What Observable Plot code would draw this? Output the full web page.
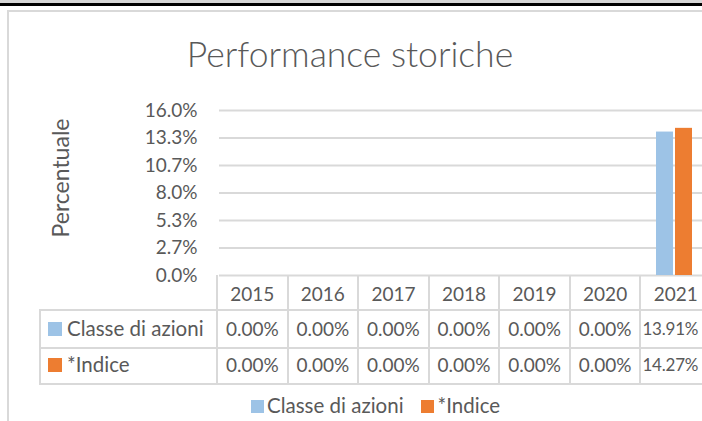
<!DOCTYPE html>
<html><head><meta charset="utf-8">
<script src="https://cdn.jsdelivr.net/npm/d3@7"></script>
<script src="https://cdn.jsdelivr.net/npm/@observablehq/plot@0.6"></script>
<style>
body{margin:0;background:#fff;}
#frame{position:relative;width:702px;height:421px;overflow:hidden;background:#fff;font-family:Lato,"Open Sans",sans-serif;color:#595959;}
.abs{position:absolute;}
.txt{position:absolute;white-space:nowrap;line-height:1;}
</style></head><body><div id="frame"></div>
<script>
const years = ["2015","2016","2017","2018","2019","2020","2021"];
const seriesNames = ["Classe di azioni","*Indice"];
const classeValues = [0,0,0,0,0,0,13.91];
const indiceValues = [0,0,0,0,0,0,14.27];
const seriesColors = ["#9dc3e6","#ed7d31"];
const yTicks = [0, 16/6, 32/6, 8, 64/6, 80/6, 16];
const titleText = "Performance storiche";
const yLabelText = "Percentuale";

const seriesValues = [classeValues, indiceValues];
const rows = years.flatMap((yr, i) => seriesNames.map((s, j) => ({year: yr, series: s, value: seriesValues[j][i]})));

const frame = document.getElementById("frame");
function box(l, t, w, h, bg){const d=document.createElement("div");d.className="abs";Object.assign(d.style,{left:l+"px",top:t+"px",width:w+"px",height:h+"px",background:bg});frame.appendChild(d);return d;}
function txt(s, css){const d=document.createElement("div");d.className="txt";d.textContent=s;Object.assign(d.style,css);frame.appendChild(d);return d;}

// window decoration
box(0,0,702,3,"#d6d6d6");
box(0,3,702,3,"#000");
// chart area border
box(7,10,2,411,"#d9d9d9");
box(7,10,700,2,"#d9d9d9");

// title
txt(titleText,{left:"0px",width:"700px",textAlign:"center",top:"35.5px",fontSize:"35.5px",fontWeight:"300"});

const W = 711, left = 217;
const chart = Plot.plot({
  width: W, height: 276,
  marginTop: 110, marginBottom: 1, marginLeft: left, marginRight: 0,
  facet: {data: rows, x: "year"},
  fx: {domain: years, axis: null, padding: 0},
  x: {domain: seriesNames, axis: null, paddingInner: 0.1, paddingOuter: 0.81},
  y: {domain: [0,16], range: [275, 110], ticks: yTicks, tickFormat: d => d.toFixed(1)+"%", tickSize: 0, tickPadding: 22, label: null},
  color: {domain: seriesNames, range: seriesColors},
  style: {background: "transparent", fontSize: "19px", fontFamily: "Lato, 'Open Sans', sans-serif", color: "#595959", overflow: "visible", maxWidth: "none"},
  marks: [
    Plot.ruleY(yTicks, {stroke: "#d9d9d9", strokeWidth: 2}),
    Plot.barY(rows, {x: "series", y: "value", fill: "series"})
  ]
});
chart.style.position = "absolute";
chart.style.left = "0px";
chart.style.top = "0px";
chart.style.maxWidth = "none";
chart.style.width = W + "px";
chart.style.height = "276px";
frame.appendChild(chart);

// y label
txt(yLabelText,{left:"60px",top:"178px",fontSize:"23px",transform:"translate(-50%,-50%) rotate(-90deg)"});

// data table, positioned with the same band scale as the facets
let fxs = chart.scale && chart.scale("fx");
const band = d3.scaleBand().domain(years).range(fxs && fxs.range ? fxs.range : [left, W]).padding(0);
const line = "#d9d9d9";
const xEnd = band.range()[1];
box(40, 309, xEnd-40, 2, line);
box(40, 347, xEnd-40, 2, line);
box(40, 383, xEnd-40, 2, line);
box(39, 309, 2, 76, line);
years.forEach((yr) => box(band(yr)-1, 275, 2, 110, line));
years.forEach((yr) => {
  txt(yr,{left:band(yr)+"px",width:band.bandwidth()+"px",textAlign:"center",top:"284px",fontSize:"19px"});
});
seriesNames.forEach((s, j) => {
  const cy = j === 0 ? 329 : 365;
  box(48, cy-7, 14, 14, seriesColors[j]);
  txt(s,{left:"67px",top:(cy-11.2)+"px",fontSize:"20.5px"});
  years.forEach((yr, i) => {
    const last = i === years.length - 1;
    const css = last
      ? {left:(band(yr)+2)+"px",top:(cy-9)+"px",fontSize:"17px",letterSpacing:"-0.2px"}
      : {left:band(yr)+"px",width:band.bandwidth()+"px",textAlign:"center",top:(cy-10)+"px",fontSize:"19px"};
    txt(seriesValues[j][i].toFixed(2)+"%", css);
  });
});

// legend
const lg = document.createElement("div");
lg.className = "txt";
Object.assign(lg.style,{left:"251px",top:"394.8px",display:"flex",alignItems:"flex-start",fontSize:"20.5px"});
seriesNames.forEach((s, j) => {
  const sw = document.createElement("span");
  Object.assign(sw.style,{display:"inline-block",width:"13px",height:"13px",background:seriesColors[j],marginTop:"5.5px",marginRight: j? "4px":"3px",marginLeft: j? "17px":"0px"});
  const t = document.createElement("span"); t.textContent = s;
  lg.appendChild(sw); lg.appendChild(t);
});
frame.appendChild(lg);
</script></body></html>
